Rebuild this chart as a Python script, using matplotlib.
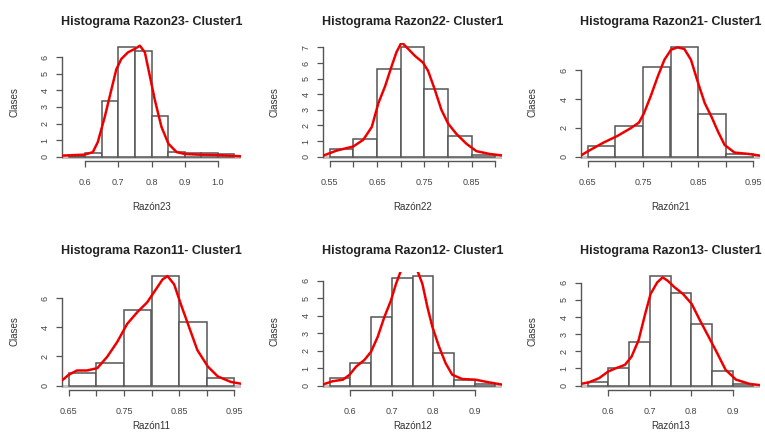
import numpy as np
import matplotlib.pyplot as plt

plt.rcParams['font.family'] = ['Liberation Sans', 'DejaVu Sans']

# --- Datos ---
titulos = ['Histograma Razon23- Cluster1', 'Histograma Razon22- Cluster1', 'Histograma Razon21- Cluster1',
           'Histograma Razon11- Cluster1', 'Histograma Razon12- Cluster1', 'Histograma Razon13- Cluster1']
etiquetas_x = ['Razón23', 'Razón22', 'Razón21', 'Razón11', 'Razón12', 'Razón13']

# bordes de las clases (inicio, fin) y alturas de las barras (densidad)
r23_bordes = (0.55, 1.05)
r23_alturas = [0.05, 0.2, 3.35, 6.6, 6.4, 2.45, 0.3, 0.2, 0.2, 0.15]
r22_bordes = (0.55, 0.90)
r22_alturas = [0.5, 1.15, 5.6, 7.0, 4.35, 1.3, 0.1]
r21_bordes = (0.65, 0.95)
r21_alturas = [0.75, 2.15, 6.25, 7.6, 3.0, 0.2]
r11_bordes = (0.65, 0.95)
r11_alturas = [0.9, 1.55, 5.2, 7.5, 4.35, 0.55]
r12_bordes = (0.55, 0.95)
r12_alturas = [0.45, 1.28, 3.92, 6.13, 6.25, 1.89, 0.3, 0.1]
r13_bordes = (0.55, 0.95)
r13_alturas = [0.2, 1.02, 2.56, 6.37, 5.38, 3.58, 0.88, 0.1]

# curvas de densidad
r23_dx = [0.527, 0.598, 0.623, 0.638, 0.659, 0.679, 0.694, 0.709, 0.729, 0.749, 0.765, 0.780,
          0.795, 0.810, 0.830, 0.851, 0.876, 0.901, 0.941, 0.992, 1.032, 1.068]
r23_dy = [0.06, 0.12, 0.27, 0.88, 2.4, 4.05, 5.28, 5.9, 6.3, 6.5, 6.7, 6.3,
          4.87, 3.43, 1.8, 0.78, 0.27, 0.16, 0.12, 0.1, 0.06, 0.02]
r22_dx = [0.537, 0.565, 0.600, 0.621, 0.639, 0.653, 0.667, 0.681, 0.691, 0.702, 0.716, 0.730,
          0.747, 0.758, 0.772, 0.786, 0.800, 0.817, 0.839, 0.860, 0.888, 0.916]
r22_dy = [0.07, 0.39, 0.65, 1.08, 1.9, 3.43, 4.5, 5.8, 6.68, 7.33, 6.9, 6.46,
          6.03, 5.49, 4.3, 3.0, 2.13, 1.48, 0.82, 0.35, 0.17, 0.07]
r21_dx = [0.634, 0.655, 0.679, 0.704, 0.728, 0.743, 0.752, 0.764, 0.777, 0.789, 0.801, 0.813,
          0.825, 0.837, 0.850, 0.862, 0.874, 0.886, 0.898, 0.916, 0.941, 0.962]
r21_dy = [0.0, 0.47, 0.98, 1.44, 1.98, 2.37, 3.02, 4.19, 5.58, 6.74, 7.44, 7.6,
          7.49, 6.74, 5.12, 3.72, 2.79, 1.74, 0.81, 0.28, 0.19, 0.07]
r11_dx = [0.636, 0.650, 0.665, 0.683, 0.702, 0.720, 0.738, 0.756, 0.774, 0.792, 0.808, 0.820,
          0.829, 0.841, 0.853, 0.868, 0.883, 0.902, 0.920, 0.944, 0.961]
r11_dy = [0.29, 0.74, 1.04, 1.04, 1.2, 1.99, 3.0, 4.24, 5.03, 5.71, 6.61, 7.29,
          7.52, 6.95, 5.6, 4.02, 2.44, 1.31, 0.63, 0.25, 0.14]
r12_dx = [0.533, 0.557, 0.582, 0.598, 0.614, 0.634, 0.650, 0.666, 0.682, 0.698, 0.710, 0.722,
          0.730, 0.742, 0.762, 0.774, 0.786, 0.798, 0.814, 0.830, 0.846, 0.870, 0.902, 0.934, 0.966]
r12_dy = [0.06, 0.25, 0.34, 0.62, 1.09, 1.47, 1.94, 2.79, 3.92, 4.87, 5.81, 6.57,
          6.94, 6.95, 6.57, 5.81, 4.49, 3.36, 2.23, 1.28, 0.62, 0.38, 0.34, 0.19, 0.06]
r13_dx = [0.524, 0.553, 0.578, 0.600, 0.619, 0.640, 0.656, 0.673, 0.689, 0.702, 0.718, 0.731,
          0.743, 0.760, 0.780, 0.801, 0.821, 0.842, 0.863, 0.883, 0.908, 0.941, 0.970]
r13_dy = [0.06, 0.19, 0.44, 0.83, 1.02, 1.21, 1.69, 2.65, 4.19, 5.35, 6.02, 6.31,
          6.12, 5.73, 5.35, 4.77, 3.81, 2.85, 1.88, 0.92, 0.35, 0.1, 0.02]

# ticks de los ejes
r23_xt = [0.6, 0.7, 0.8, 0.9, 1.0]
r23_xl = ['0.6', '0.7', '0.8', '0.9', '1.0']
r22_xt = [0.55, 0.60, 0.65, 0.70, 0.75, 0.80, 0.85, 0.90]
r22_xl = ['0.55', '', '0.65', '', '0.75', '', '0.85', '']
r21_xt = [0.65, 0.70, 0.75, 0.80, 0.85, 0.90, 0.95]
r21_xl = ['0.65', '', '0.75', '', '0.85', '', '0.95']
r11_xt = r21_xt
r11_xl = r21_xl
r12_xt = [0.6, 0.7, 0.8, 0.9]
r12_xl = ['0.6', '0.7', '0.8', '0.9']
r13_xt = [0.6, 0.7, 0.8, 0.9]
r13_xl = ['0.6', '0.7', '0.8', '0.9']

r23_yt = [0, 1, 2, 3, 4, 5, 6]
r22_yt = [0, 1, 2, 3, 4, 5, 6, 7]
r21_yt = [0, 2, 4, 6]
r11_yt = [0, 2, 4, 6]
r12_yt = [0, 1, 2, 3, 4, 5, 6]
r13_yt = [0, 1, 2, 3, 4, 5, 6]

paneles = [
    (r23_bordes, r23_alturas, r23_dx, r23_dy, r23_xt, r23_xl, r23_yt),
    (r22_bordes, r22_alturas, r22_dx, r22_dy, r22_xt, r22_xl, r22_yt),
    (r21_bordes, r21_alturas, r21_dx, r21_dy, r21_xt, r21_xl, r21_yt),
    (r11_bordes, r11_alturas, r11_dx, r11_dy, r11_xt, r11_xl, r11_yt),
    (r12_bordes, r12_alturas, r12_dx, r12_dy, r12_xt, r12_xl, r12_yt),
    (r13_bordes, r13_alturas, r13_dx, r13_dy, r13_xt, r13_xl, r13_yt),
]

W, H = 765, 434
fig = plt.figure(figsize=(W / 100, H / 100), dpi=100)

izq = [62, 323, 581]
abajo = [161, 390]
ancho, alto = 179, 118
gris = '#555555'

for i, (bordes, alturas, dx, dy, xt, xl, yt) in enumerate(paneles):
    fila, col = divmod(i, 3)
    ax = fig.add_axes([izq[col] / W, 1 - abajo[fila] / H, ancho / W, alto / H])

    n = len(alturas)
    cortes = np.linspace(bordes[0], bordes[1], n + 1)
    ancho_barra = cortes[1] - cortes[0]
    ax.axhline(0, color='#c4c4c4', lw=2.2, zorder=1)
    ax.bar(cortes[:-1], alturas, width=ancho_barra, align='edge',
           facecolor='white', edgecolor=gris, lw=1.1, zorder=2)
    ax.plot(dx, dy, color='red', lw=1.8, zorder=3)
    ax.plot(dx, dy, color='#b00000', lw=0.6, ls=(0, (2, 2)), zorder=4)

    # limites estilo R (4% extra a cada lado)
    rango = bordes[1] - bordes[0]
    ax.set_xlim(bordes[0] - 0.04 * rango, bordes[1] + 0.04 * rango)
    M = max(alturas)
    ax.set_ylim(-0.04 * M, 1.04 * M)

    for s in ['top', 'right']:
        ax.spines[s].set_visible(False)
    ax.spines['left'].set_bounds(yt[0], yt[-1])
    ax.spines['bottom'].set_bounds(xt[0], xt[-1])
    for s in ['left', 'bottom']:
        ax.spines[s].set_color(gris)
        ax.spines[s].set_linewidth(1.0)

    ax.set_xticks(xt)
    ax.set_xticklabels(xl)
    ax.set_yticks(yt)
    ax.set_yticklabels([str(v) for v in yt], rotation=90, va='center')
    ax.tick_params(axis='both', length=4, width=0.9, color=gris,
                   labelsize=6.5, labelcolor='#444444')
    ax.tick_params(axis='x', pad=8)
    ax.tick_params(axis='y', pad=5)

    ax.set_title(titulos[i], fontsize=9, fontweight='bold', color='#222222', pad=13)
    ax.set_xlabel(etiquetas_x[i], fontsize=7, color='#333333')
    ax.set_ylabel('Clases', fontsize=7, color='#333333')
    ax.xaxis.set_label_coords(0.5, -(41 if fila == 0 else 31) / alto)
    ax.yaxis.set_label_coords(-43 / ancho, 0.5)
    ax.patch.set_alpha(0)

fig.savefig('out.png', dpi=100)
